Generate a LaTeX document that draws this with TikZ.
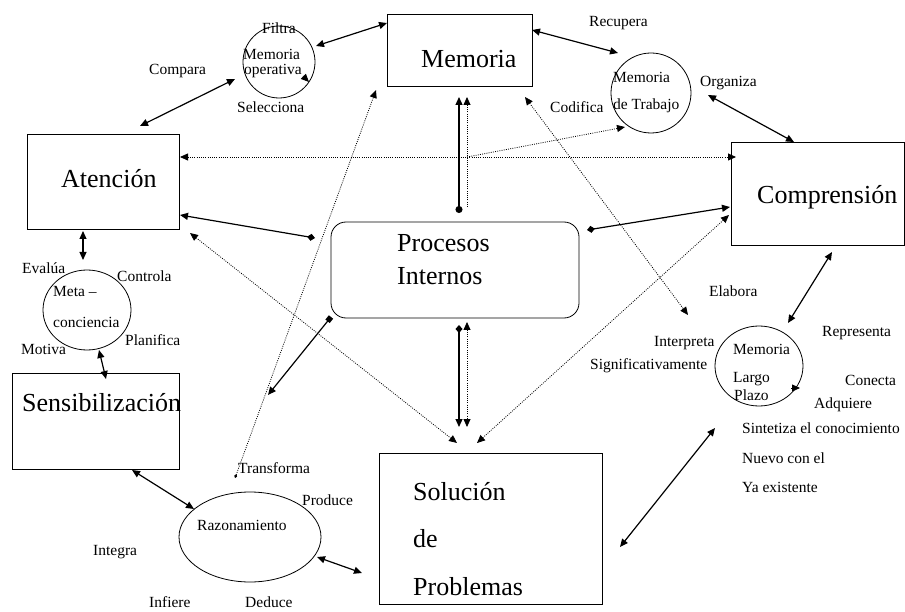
\documentclass[tikz,border=0pt]{standalone}
\usepackage{fontspec}
\setmainfont{Liberation Serif}
\usetikzlibrary{arrows.meta,shapes.geometric}
\begin{document}
\begin{tikzpicture}[x=1pt,y=-1pt,
  boxn/.style={draw,line width=0.8pt,inner sep=0pt,outer sep=0pt},
  circn/.style={draw,ellipse,line width=0.8pt,inner sep=0pt,outer sep=0pt},
  big/.style={anchor=base west,inner sep=0pt,font=\fontsize{26}{28}\selectfont},
  sm/.style={anchor=base west,inner sep=0pt,font=\fontsize{15.5}{17}\selectfont},
  two/.style={line width=1.2pt,{Triangle[length=8pt,width=7pt]}-{Triangle[length=8pt,width=7pt]}},
  dot/.style={line width=0.8pt,dash pattern=on 0.9pt off 1.3pt},
  dtwo/.style={dot,{Triangle[length=8pt,width=7pt]}-{Triangle[length=8pt,width=7pt]}},
  done/.style={dot,-{Triangle[length=8pt,width=7pt]}},
  dia/.style={line width=1.2pt,{Diamond[length=8pt,width=7pt]}-{Triangle[length=8pt,width=7pt]}},
]
\useasboundingbox (0,0) rectangle (905,612);
\fill[white] (0,0) rectangle (905,612);

% main shapes
\node[circn,minimum width=72pt,minimum height=72pt] (memop) at (279,62) {};
\node[boxn,minimum width=145pt,minimum height=72pt] (mem) at (459.5,50) {};
\node[circn,minimum width=80pt,minimum height=80pt] (memtr) at (651,93) {};
\node[boxn,minimum width=152pt,minimum height=95pt] (aten) at (103,181.5) {};
\node[boxn,minimum width=173pt,minimum height=103pt] (compr) at (817.5,193.5) {};
\node[boxn,rounded corners=15pt,minimum width=248pt,minimum height=96pt] (proc) at (455,270) {};
\node[circn,minimum width=88pt,minimum height=80pt] (meta) at (87,310) {};
\node[boxn,minimum width=167pt,minimum height=96pt] (sens) at (95.5,421) {};
\node[circn,minimum width=88pt,minimum height=80pt] (ltm) at (759,366) {};
\node[circn,minimum width=142pt,minimum height=90pt] (razo) at (250,537) {};
\node[boxn,minimum width=223pt,minimum height=151pt] (sol) at (490.5,528.5) {};

% big texts
\node[big] (tmem) at (421,68) {Memoria};
\node[big] (taten) at (61,188) {Atención};
\node[big] (tcompr) at (757,204) {Comprensión};
\node[big] (tproc1) at (397,252) {Procesos};
\node[big] (tproc2) at (397,285) {Internos};
\node[big] (tsens) at (22,411) {Sensibilización};
\node[big] (tsol1) at (413,500) {Solución};
\node[big] (tsol2) at (413,547) {de};
\node[big] (tsol3) at (413,595) {Problemas};

% small texts
\node[sm] (lfil) at (262,34) {Filtra};
\node[sm] (lmo1) at (243,60) {Memoria};
\node[sm] (lmo2) at (244,75) {operativa};
\node[sm] (lsel) at (237,113) {Selecciona};
\node[sm] (lcom) at (149,75) {Compara};
\node[sm] (lrec) at (589,27) {Recupera};
\node[sm] (lmt1) at (613,83) {Memoria};
\node[sm] (lmt2) at (613,110) {de Trabajo};
\node[sm] (lcod) at (550,113) {Codifica};
\node[sm] (lorg) at (700,87) {Organiza};
\node[sm] (leva) at (22,274) {Evalúa};
\node[sm] (lcon) at (117,282) {Controla};
\node[sm] (lme1) at (53,297) {Meta –};
\node[sm] (lme2) at (53,327) {conciencia};
\node[sm] (lmot) at (21,355) {Motiva};
\node[sm] (lpla) at (125,345) {Planifica};
\node[sm] (lela) at (709,297) {Elabora};
\node[sm] (lint) at (654,346) {Interpreta};
\node[sm] (lsig) at (590,370) {Significativamente};
\node[sm] (lrep) at (822,337) {Representa};
\node[sm] (llt1) at (733,354) {Memoria};
\node[sm] (llt2) at (733,382) {Largo};
\node[sm] (llt3) at (734,400) {Plazo};
\node[sm] (lcnc) at (845,385) {Conecta};
\node[sm] (ladq) at (814,408) {Adquiere};
\node[sm] (lsin) at (742,433) {Sintetiza el conocimiento};
\node[sm] (lnue) at (742,463) {Nuevo con el};
\node[sm] (lya) at (742,492) {Ya existente};
\node[sm] (ltra) at (238,473) {Transforma};
\node[sm] (lpro) at (302,505) {Produce};
\node[sm] (lraz) at (197,530) {Razonamiento};
\node[sm] (ling) at (93,555) {Integra};
\node[sm] (linf) at (149,607) {Infiere};
\node[sm] (lded) at (245,607) {Deduce};

% connector end points
\coordinate (a1) at (140,126); \coordinate (b1) at (235,79);
\coordinate (a2) at (316,46);  \coordinate (b2) at (387,23);
\coordinate (a3) at (532,30);  \coordinate (b3) at (618,53);
\coordinate (a4) at (708,95);  \coordinate (b4) at (794,142);
\coordinate (a5) at (832,252); \coordinate (b5) at (788,323);
\coordinate (a6) at (715,428); \coordinate (b6) at (620,547);
\coordinate (a7) at (317,557); \coordinate (b7) at (362,573);
\coordinate (a8) at (132,470); \coordinate (b8) at (194,509);
\coordinate (a9) at (99,350);  \coordinate (b9) at (106,379);
\coordinate (a10) at (83,231); \coordinate (b10) at (83,260);
\coordinate (a11) at (315,238); \coordinate (b11) at (180,215);
\coordinate (a12) at (587,230); \coordinate (b12) at (730,207);
\coordinate (a13) at (459,213); \coordinate (b13) at (459,97);
\coordinate (a14) at (467,207); \coordinate (b14) at (467,97);
\coordinate (a15) at (467,157); \coordinate (b15) at (625,127);
\coordinate (a16) at (180,157); \coordinate (b16) at (736,157);
\coordinate (a17) at (459,325); \coordinate (b17) at (459,427);
\coordinate (a18) at (467,322); \coordinate (b18) at (467,427);
\coordinate (a19) at (331,317); \coordinate (b19) at (268,395);
\coordinate (a20) at (235,478); \coordinate (b20) at (376,90);
\coordinate (a21) at (190,233); \coordinate (b21) at (457,443);
\coordinate (a22) at (729,215); \coordinate (b22) at (477,443);
\coordinate (a23) at (525,97);  \coordinate (b23) at (688,315);
\coordinate (a24) at (303,76);  \coordinate (b24) at (309,82);
\coordinate (a25) at (791,388); \coordinate (b25) at (800,388);

% solid double arrows
\draw[two] (a1) -- (b1);
\draw[two] (a2) -- (b2);
\draw[two] (a3) -- (b3);
\draw[two] (a4) -- (b4);
\draw[two] (a5) -- (b5);
\draw[two] (a6) -- (b6);
\draw[two] (a7) -- (b7);
\draw[two] (a8) -- (b8);
\draw[two] (a9) -- (b9);
\draw[two] (a10) -- (b10);
% from Procesos Internos
\draw[dia] (a11) -- (b11);
\draw[dia] (a12) -- (b12);
\draw[line width=1.2pt,{Circle[length=7pt]}-{Triangle[length=8pt,width=7pt]}] (a13) -- (b13);
\draw[dia] (a17) -- (b17);
\draw[line width=1.2pt,{Square[length=5.5pt]}-{Triangle[length=8pt,width=7pt]}] (a19) -- (b19);
% dotted connectors
\draw[done] (a14) -- (b14);
\draw[done] (a15) -- (b15);
\draw[dtwo] (a16) -- (b16);
\draw[dtwo] (a18) -- (b18);
\draw[dot,{Diamond[length=4pt,width=3pt]}-{Triangle[length=8pt,width=7pt]}] (a20) -- (b20);
\draw[dtwo] (a21) -- (b21);
\draw[dtwo] (a22) -- (b22);
\draw[dtwo] (a23) -- (b23);
% circle arrowheads
\draw[line width=0.8pt,-{Triangle[length=8pt,width=7pt]}] (a24) -- (b24);
\draw[line width=0.8pt,-{Triangle[length=8pt,width=7pt]}] (a25) -- (b25);
\end{tikzpicture}
\end{document}
